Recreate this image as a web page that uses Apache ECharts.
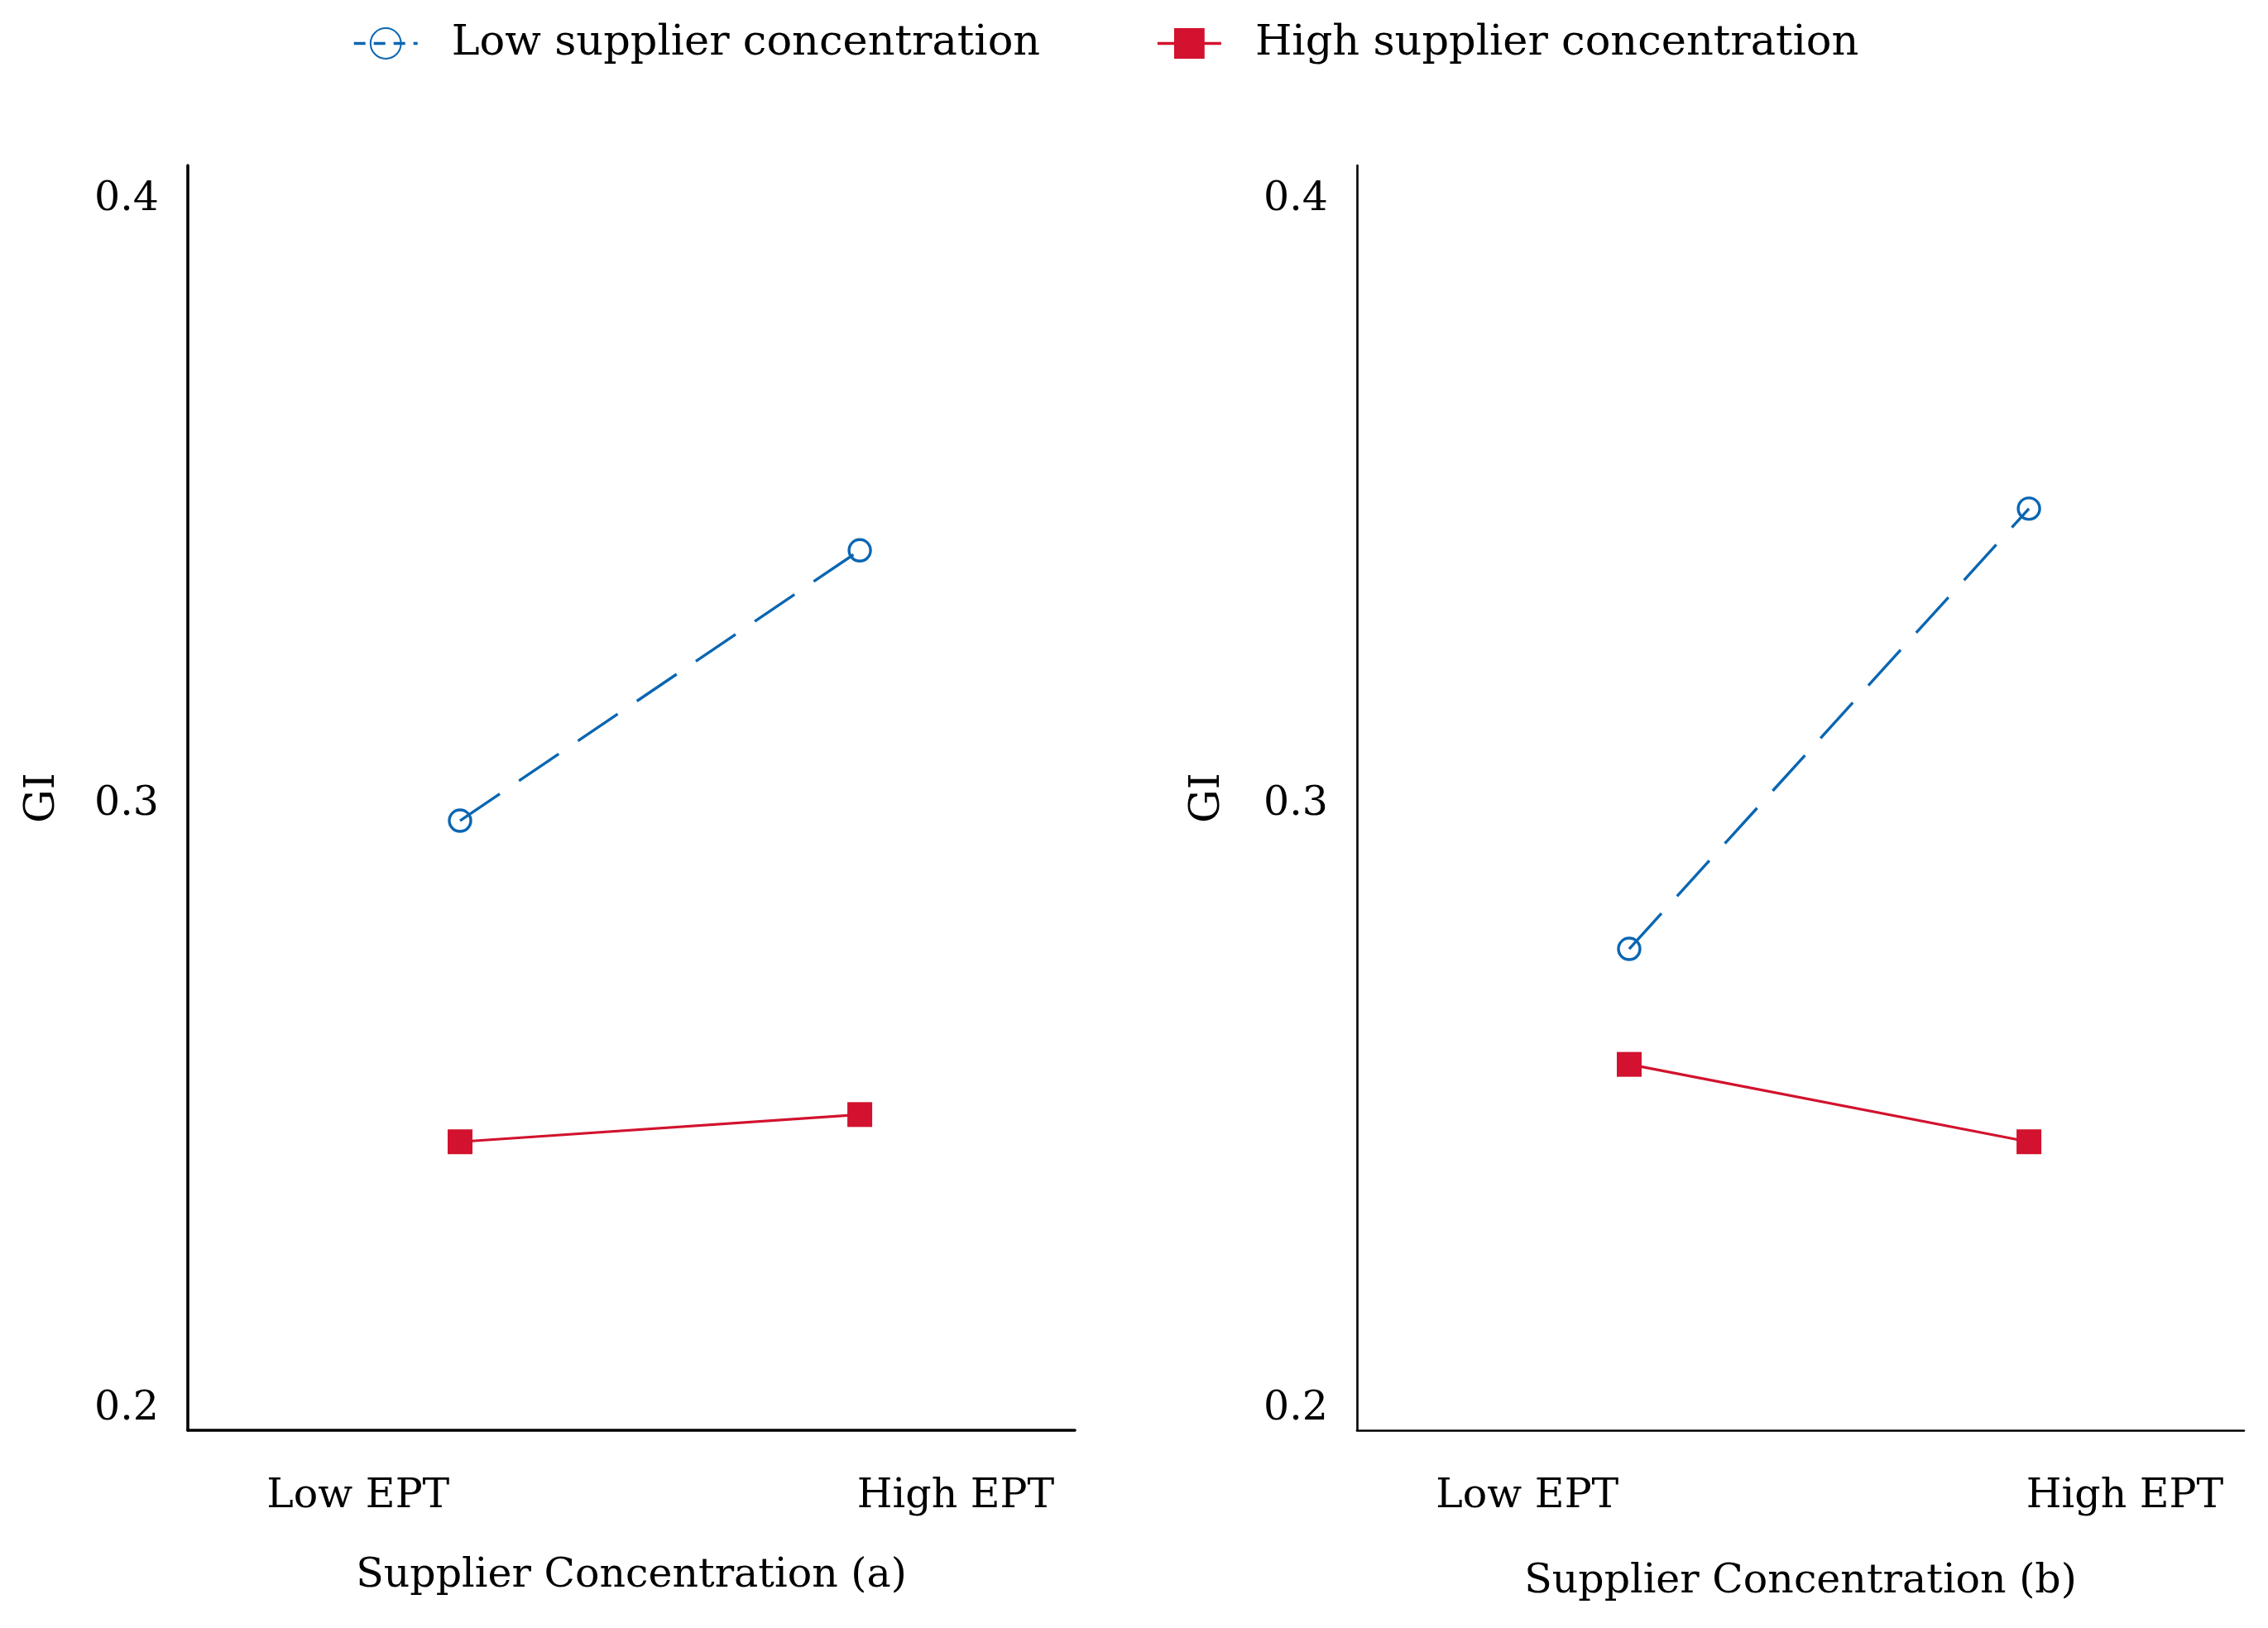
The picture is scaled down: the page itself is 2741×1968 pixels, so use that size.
<!DOCTYPE html>
<html>
<head>
<meta charset="utf-8">
<script src="https://cdn.jsdelivr.net/npm/echarts@6/dist/echarts.min.js"></script>
<style>
html,body{margin:0;padding:0;background:#fff;}
#chart{width:2741px;height:1968px;}
</style>
</head>
<body>
<div id="chart"></div>
<script>
// ---- data ----
var xCategories = ['Low EPT', 'High EPT'];
var seriesNames = ['Low supplier concentration', 'High supplier concentration'];
var panelTitles = ['Supplier Concentration (a)', 'Supplier Concentration (b)'];
var yAxisName = 'GI';
var yTicks = [0.2, 0.3, 0.4];
// panel (a)
var lowConcA = [0.2963, 0.3410];
var highConcA = [0.2432, 0.2477];
// panel (b)
var lowConcB = [0.2751, 0.3479];
var highConcB = [0.2560, 0.2432];

// ---- styling ----
var FONT = 'DejaVu Serif';
var BLUE = '#0a66b2';
var RED = '#d2122e';
var xLabelPos = [0.745, 2.24];

function pts(vals) {
  return vals.map(function (v, i) { return [i + 1, v]; });
}

var grids = [
  { left: 227, top: 200, width: 1072, height: 1529 },
  { left: 1640, top: 200, width: 1072, height: 1529 }
];

var xAxes = [0, 1].map(function (g) {
  return {
    type: 'value', gridIndex: g, min: 0.319, max: 2.538,
    name: panelTitles[g], nameLocation: 'middle', nameGap: g === 0 ? 152 : 159,
    nameTextStyle: { fontFamily: FONT, fontSize: 49, color: '#000' },
    axisLine: { show: true, lineStyle: { color: '#000', width: g === 0 ? 3.6 : 2.6 } },
    axisTick: { show: false },
    splitLine: { show: false },
    axisLabel: {
      customValues: xLabelPos,
      margin: 56,
      fontFamily: FONT, fontSize: 49, color: '#000',
      formatter: function (v) { return v < 1.5 ? xCategories[0] : xCategories[1]; }
    }
  };
});

var yAxes = [0, 1].map(function (g) {
  return {
    type: 'value', gridIndex: g, min: 0.19549, max: 0.40465,
    name: yAxisName, nameLocation: 'middle', nameGap: g === 0 ? 150 : 155,
    nameTextStyle: { fontFamily: FONT, fontSize: 51, color: '#000' },
    axisLine: { show: true, lineStyle: { color: '#000', width: g === 0 ? 3.6 : 2.6 } },
    axisTick: { show: false },
    splitLine: { show: false },
    axisLabel: {
      customValues: yTicks,
      margin: 35,
      fontFamily: FONT, fontSize: 49, color: '#000',
      formatter: function (v) { return '{t|' + v.toFixed(1) + '}'; },
      rich: {
        t: { fontFamily: FONT, fontSize: 49, color: '#000', padding: [14, 0, 0, 0] }
      }
    }
  };
});

function lowSeries(vals, g) {
  return {
    name: seriesNames[0], type: 'line', xAxisIndex: g, yAxisIndex: g,
    data: pts(vals), color: BLUE,
    symbol: 'circle', symbolSize: 26,
    itemStyle: { color: 'rgba(255,255,255,0)', borderColor: BLUE, borderWidth: 3.4 },
    lineStyle: { color: BLUE, width: 3.4, type: [58, 28] },
    emphasis: { disabled: true },
    z: 3
  };
}
function highSeries(vals, g) {
  return {
    name: seriesNames[1], type: 'line', xAxisIndex: g, yAxisIndex: g,
    data: pts(vals), color: RED,
    symbol: 'rect', symbolSize: 30,
    itemStyle: { color: RED },
    lineStyle: { color: RED, width: 3.2, type: 'solid' },
    emphasis: { disabled: true },
    z: 2
  };
}

var option = {
  backgroundColor: '#fff',
  animation: false,
  legend: {
    left: 421, top: 22,
    itemWidth: 77, itemHeight: 46, itemGap: 140,
    textStyle: { fontFamily: FONT, fontSize: 51, color: '#000', padding: [0, 0, 0, 36] },
    data: [
      { name: seriesNames[0], lineStyle: { type: [14, 10], width: 3.4 } },
      { name: seriesNames[1], lineStyle: { width: 3.4 } }
    ]
  },
  grid: grids,
  xAxis: xAxes,
  yAxis: yAxes,
  series: [
    lowSeries(lowConcA, 0), highSeries(highConcA, 0),
    lowSeries(lowConcB, 1), highSeries(highConcB, 1)
  ]
};

var chart = echarts.init(document.getElementById('chart'));
chart.setOption(option);
</script>
</body>
</html>
